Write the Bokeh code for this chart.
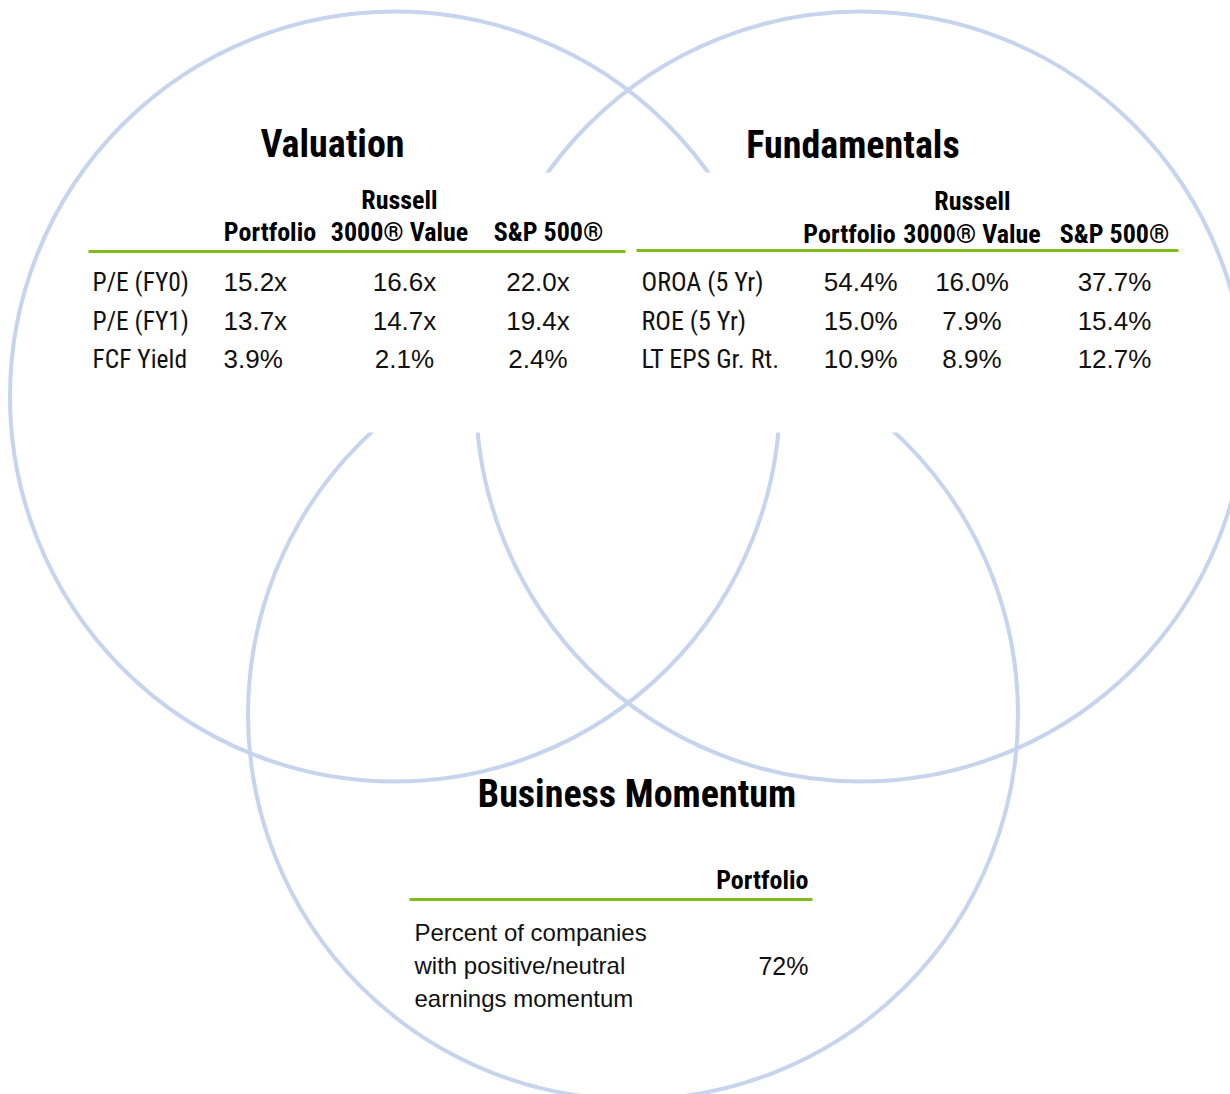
from bokeh.plotting import figure
from bokeh.models import ColumnDataSource, Range1d
from bokeh.core.properties import value
from bokeh.embed import file_html
from bokeh.resources import INLINE

# ---------------- data ----------------
section_titles = ["Valuation", "Fundamentals", "Business Momentum"]
header_top = ["Russell"]
header_cols = ["Portfolio", "3000\u00ae Value", "S&P 500\u00ae"]

valuation_metrics = ["P/E (FY0)", "P/E (FY1)", "FCF Yield"]
valuation_portfolio = ["15.2x", "13.7x", "3.9%"]
valuation_russell = ["16.6x", "14.7x", "2.1%"]
valuation_sp500 = ["22.0x", "19.4x", "2.4%"]

fundamentals_metrics = ["OROA (5 Yr)", "ROE (5 Yr)", "LT EPS Gr. Rt."]
fundamentals_portfolio = ["54.4%", "15.0%", "10.9%"]
fundamentals_russell = ["16.0%", "7.9%", "8.9%"]
fundamentals_sp500 = ["37.7%", "15.4%", "12.7%"]

momentum_header = ["Portfolio"]
momentum_label = ["Percent of companies", "with positive/neutral", "earnings momentum"]
momentum_portfolio = ["72%"]

# ---------------- layout / style ----------------
W, H = 1230, 1094
CIRCLE_COLOR = "#c6d4ed"
GREEN = "#80bc1c"
TXT = "#111111"
NARROW = "Roboto Condensed, DejaVu Sans Condensed, Roboto, sans-serif"
REG = "Liberation Sans"

p = figure(width=W, height=H, output_backend="svg", toolbar_location=None,
           x_range=Range1d(0, W), y_range=Range1d(H, 0),
           min_border=0, outline_line_color=None)
p.axis.visible = False
p.grid.visible = False
p.background_fill_color = "white"
p.border_fill_color = "white"

# Venn circles
circ = ColumnDataSource(dict(x=[394.5, 860.5, 632.5], y=[396, 396, 714], r=[385, 385, 385]))
p.circle(x="x", y="y", radius="r", source=circ, fill_color=None,
         line_color=CIRCLE_COLOR, line_width=4)

# white panel behind the upper tables
p.quad(left=[86], right=[1170], top=[172], bottom=[432], fill_color="white", line_color=None)

# green rules
p.segment(x0=[88, 636, 409], y0=[251, 250, 899], x1=[625, 1178, 812], y1=[251, 250, 899],
          line_color=GREEN, line_width=3)


def txt(xs, ys, texts, size, font, style="normal", align="left", color=TXT):
    src = ColumnDataSource(dict(x=xs, y=ys, t=texts))
    p.text(x="x", y="y", text="t", source=src, text_font=value(font),
           text_font_size=size, text_font_style=style, text_align=align,
           text_baseline="middle", text_color=color)


# titles
txt([332, 852.5, 636.5], [143, 144, 793], section_titles, "38px", NARROW, "bold", "center", "#000000")

# headers - valuation
txt([399], [199], header_top, "26px", NARROW, "bold", "center", "#000000")
txt([269.5, 399, 548], [231] * 3, header_cols, "26px", NARROW, "bold", "center", "#000000")
# headers - fundamentals
txt([972], [200], header_top, "26px", NARROW, "bold", "center", "#000000")
txt([849, 971.5, 1114], [233] * 3, header_cols, "26px", NARROW, "bold", "center", "#000000")

rows = [281, 320, 358]
# valuation table
txt([92] * 3, rows, valuation_metrics, "25.5px", NARROW)
txt([223] * 3, rows, valuation_portfolio, "26px", REG)
txt([404] * 3, rows, valuation_russell, "26px", REG, align="center")
txt([537.5] * 3, rows, valuation_sp500, "26px", REG, align="center")

# fundamentals table
txt([641] * 3, rows, fundamentals_metrics, "26px", NARROW)
txt([897] * 3, rows, fundamentals_portfolio, "26px", REG, align="right")
txt([971.5] * 3, rows, fundamentals_russell, "26px", REG, align="center")
txt([1114] * 3, rows, fundamentals_sp500, "26px", REG, align="center")

# business momentum
txt([808], [879], momentum_header, "26px", NARROW, "bold", "right", "#000000")
txt([414] * 3, [932, 965, 998], momentum_label, "24px", REG)
txt([808], [965], momentum_portfolio, "25px", REG, align="right")

open("out.html", "w").write(file_html(p, INLINE))
